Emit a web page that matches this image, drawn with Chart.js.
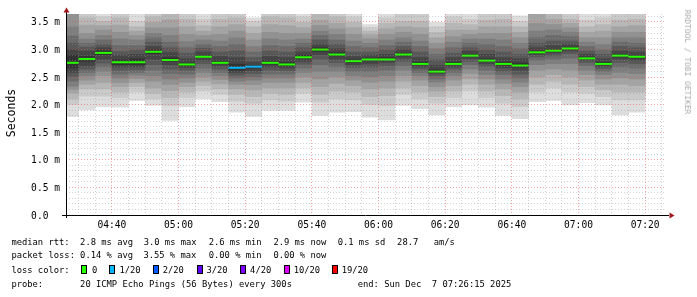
<!DOCTYPE html>
<html><head><meta charset="utf-8">
<script src="https://cdn.jsdelivr.net/npm/chart.js@4/dist/chart.umd.min.js"></script>
<style>
html,body{margin:0;padding:0;background:#fff;}
#wrap{position:relative;width:697px;height:297px;overflow:hidden;font-family:'DejaVu Sans Mono',monospace;background:#fff;}
canvas{position:absolute;left:0;top:0;}
.t{position:absolute;white-space:pre;font-size:8.8px;line-height:10px;color:#000;}
.box{position:absolute;width:4px;height:7px;border:1px solid #000;}
#ylab{position:absolute;left:11px;top:113px;font-size:11.5px;line-height:12px;white-space:pre;transform:translate(-50%,-50%) rotate(-90deg);color:#000;}
#wm{position:absolute;left:686.5px;top:62px;font-size:7.9px;line-height:8px;white-space:pre;transform:translate(-50%,-50%) rotate(90deg);color:#aaa;}
</style></head>
<body><div id="wrap"><canvas id="c" width="697" height="297"></canvas>
<div id="ylab">Seconds</div><div id="wm">RRDTOOL / TOBI OETIKER</div>
<div id="legend"></div></div>
<script>
// ---- data ----
const slotEnds = ['04:30','04:35','04:40','04:45','04:50','04:55','05:00','05:05','05:10','05:15','05:20','05:25','05:30','05:35','05:40','05:45','05:50','05:55','06:00','06:05','06:10','06:15','06:20','06:25','06:30','06:35','06:40','06:45','06:50','06:55','07:00','07:05','07:10','07:15','07:20'];
const medianRtt = [2.76,2.83,2.94,2.77,2.77,2.96,2.81,2.73,2.87,2.76,2.67,2.69,2.76,2.73,2.86,3.00,2.91,2.79,2.82,2.82,2.91,2.74,2.60,2.74,2.89,2.80,2.74,2.71,2.95,2.98,3.02,2.84,2.74,2.89,2.87];
const lostPings = [0,0,0,0,0,0,0,0,0,0,1,1,0,0,0,0,0,0,0,0,0,0,0,0,0,0,0,0,0,0,0,0,0,0,0];
// 20 sorted ping rtts (ms) per 5-minute slot
const pings = [
[1.78,2.00,2.10,2.21,2.27,2.33,2.42,2.51,2.58,2.66,2.90,3.00,3.12,3.25,3.42,3.66,3.75,3.85,3.95,4.10],
[1.90,2.15,2.28,2.36,2.44,2.52,2.58,2.64,2.70,2.78,2.88,2.98,3.05,3.12,3.20,3.30,3.45,3.58,3.70,3.90],
[1.96,2.15,2.28,2.40,2.52,2.60,2.68,2.75,2.82,2.90,2.98,3.04,3.10,3.18,3.26,3.36,3.44,3.52,3.60,3.75],
[1.95,2.12,2.22,2.32,2.40,2.48,2.55,2.62,2.68,2.72,2.82,2.90,2.97,3.08,3.20,3.32,3.45,3.58,3.70,3.85],
[2.07,2.22,2.32,2.40,2.47,2.53,2.58,2.63,2.68,2.72,2.84,2.92,3.00,3.08,3.18,3.26,3.34,3.42,3.52,3.70],
[1.98,2.10,2.20,2.30,2.42,2.52,2.62,2.72,2.82,2.92,3.00,3.06,3.14,3.22,3.30,3.40,3.50,3.60,3.72,3.90],
[1.71,1.98,2.12,2.25,2.36,2.46,2.56,2.64,2.72,2.78,2.86,2.95,3.04,3.14,3.26,3.40,3.55,3.68,3.80,3.95],
[1.96,2.12,2.22,2.32,2.40,2.48,2.55,2.62,2.67,2.70,2.76,2.84,2.94,3.04,3.15,3.28,3.42,3.56,3.70,3.85],
[2.10,2.24,2.34,2.42,2.50,2.58,2.66,2.74,2.80,2.85,2.90,2.96,3.03,3.10,3.18,3.26,3.34,3.44,3.56,3.70],
[2.05,2.18,2.28,2.37,2.45,2.52,2.58,2.64,2.70,2.74,2.80,2.88,2.96,3.06,3.16,3.28,3.42,3.56,3.70,3.85],
[1.86,2.06,2.18,2.28,2.36,2.42,2.48,2.53,2.58,2.62,2.74,2.86,2.98,3.10,3.22,3.34,3.46,3.58,3.70,3.85],
[1.78,2.02,2.14,2.26,2.36,2.44,2.50,2.56,2.61,2.66,2.72,2.78,2.86,2.96,3.06,3.18,3.30,3.42,3.52,3.58],
[1.89,2.08,2.20,2.30,2.40,2.48,2.55,2.62,2.68,2.73,2.80,2.88,2.98,3.08,3.20,3.32,3.46,3.60,3.74,3.90],
[1.89,2.06,2.18,2.30,2.40,2.48,2.55,2.61,2.66,2.70,2.77,2.86,2.96,3.06,3.18,3.30,3.44,3.58,3.72,3.88],
[2.04,2.20,2.30,2.40,2.50,2.58,2.66,2.73,2.78,2.83,2.90,2.96,3.04,3.12,3.20,3.30,3.40,3.50,3.60,3.75],
[1.80,2.04,2.18,2.32,2.46,2.60,2.72,2.82,2.90,2.96,3.04,3.10,3.18,3.26,3.34,3.44,3.54,3.66,3.80,3.95],
[1.86,2.10,2.24,2.38,2.50,2.60,2.68,2.76,2.82,2.88,2.95,3.02,3.10,3.18,3.28,3.38,3.48,3.60,3.72,3.88],
[1.87,2.08,2.22,2.34,2.44,2.52,2.60,2.67,2.72,2.76,2.82,2.88,2.96,3.06,3.16,3.28,3.40,3.50,3.60,3.70],
[1.77,2.00,2.14,2.28,2.40,2.50,2.60,2.68,2.74,2.79,2.85,2.90,2.96,3.04,3.12,3.20,3.28,3.34,3.40,3.46],
[1.72,1.98,2.16,2.30,2.42,2.52,2.62,2.70,2.76,2.80,2.86,2.92,3.00,3.08,3.18,3.28,3.38,3.48,3.58,3.70],
[1.98,2.18,2.30,2.42,2.52,2.62,2.70,2.78,2.84,2.88,2.94,3.00,3.06,3.14,3.22,3.32,3.42,3.52,3.64,3.80],
[1.92,2.10,2.22,2.34,2.44,2.52,2.58,2.64,2.68,2.72,2.78,2.86,2.96,3.06,3.16,3.28,3.40,3.52,3.64,3.80],
[1.81,2.02,2.14,2.24,2.32,2.40,2.46,2.52,2.56,2.58,2.64,2.72,2.82,2.92,3.02,3.12,3.22,3.32,3.42,3.50],
[1.96,2.12,2.24,2.34,2.44,2.52,2.58,2.64,2.68,2.72,2.78,2.86,2.94,3.04,3.14,3.24,3.36,3.48,3.60,3.74],
[1.99,2.24,2.36,2.46,2.56,2.64,2.72,2.78,2.83,2.87,2.92,2.98,3.04,3.12,3.20,3.28,3.36,3.46,3.56,3.66],
[1.95,2.12,2.24,2.36,2.46,2.54,2.62,2.69,2.74,2.78,2.84,2.92,3.00,3.10,3.20,3.30,3.42,3.54,3.66,3.80],
[1.80,2.02,2.16,2.28,2.38,2.46,2.54,2.60,2.66,2.71,2.78,2.86,2.96,3.06,3.18,3.30,3.42,3.56,3.70,3.85],
[1.74,1.96,2.10,2.22,2.32,2.40,2.48,2.55,2.62,2.68,2.76,2.84,2.92,3.02,3.12,3.22,3.32,3.42,3.52,3.62],
[2.05,2.22,2.36,2.50,2.62,2.72,2.80,2.86,2.90,2.93,2.98,3.04,3.12,3.22,3.34,3.48,3.66,3.78,3.90,4.05],
[2.07,2.30,2.42,2.54,2.64,2.74,2.82,2.88,2.93,2.96,3.01,3.08,3.16,3.26,3.36,3.46,3.56,3.66,3.78,3.92],
[1.99,2.22,2.36,2.50,2.62,2.74,2.84,2.92,2.97,3.00,3.05,3.10,3.16,3.24,3.32,3.40,3.48,3.56,3.66,3.80],
[2.03,2.20,2.32,2.44,2.54,2.62,2.70,2.76,2.80,2.82,2.87,2.92,2.98,3.06,3.14,3.22,3.32,3.42,3.54,3.66],
[1.99,2.14,2.26,2.36,2.46,2.54,2.60,2.65,2.69,2.72,2.78,2.84,2.92,3.00,3.10,3.22,3.34,3.46,3.58,3.72],
[1.81,2.08,2.22,2.36,2.48,2.58,2.68,2.76,2.82,2.86,2.92,2.98,3.06,3.14,3.22,3.32,3.42,3.54,3.66,3.80],
[1.86,2.08,2.22,2.34,2.46,2.56,2.66,2.74,2.80,2.84,2.90,2.96,3.04,3.12,3.22,3.32,3.44,3.56,3.68,3.82]
];
const xTickLabels = ['04:40','05:00','05:20','05:40','06:00','06:20','06:40','07:00','07:20'];
const yTickLabels = ['0.0  ','0.5 m','1.0 m','1.5 m','2.0 m','2.5 m','3.0 m','3.5 m'];
const startTime = '04:26:15', endTime = '07:26:15';
const yMax = 3.645;
const lossColors = {0:'#26ff00',1:'#00b8ff',2:'#0059ff',3:'#5e00ff',4:'#7e00ff',10:'#dd00ff',19:'#ff0000'};

const legendRows = [
 {base:245, items:[[12,'median rtt:'],[80.7,'2.8 ms avg'],[144.3,'3.0 ms max'],[209.3,'2.6 ms min'],[274,'2.9 ms now'],[338.3,'0.1 ms sd'],[397.7,'28.7'],[434.3,'am/s']]},
 {base:258.3, items:[[12,'packet loss:'],[80.7,'0.14 % avg'],[144,'3.55 % max'],[209.3,'0.00 % min'],[274,'0.00 % now']]},
 {base:272.7, items:[[12,'loss color:'],[92.7,'0'],[120,'1/20'],[163.3,'2/20'],[207,'3/20'],[250.7,'4/20'],[294.3,'10/20'],[342.3,'19/20']]},
 {base:286.7, items:[[12,'probe:'],[80.7,'20 ICMP Echo Pings (56 Bytes) every 300s'],[358.3,'end: Sun Dec  7 07:26:15 2025']]}
];
const legendBoxes = [[81,0],[108.7,1],[152.7,2],[196.7,3],[240,4],[283.7,10],[331.7,19]];

// ---- helpers ----
function toMin(s){const p=s.split(':').map(Number);return p[0]*60+p[1]+(p[2]||0)/60;}
function fmt(m){const h=Math.floor(m/60),mm=Math.round(m%60);return String(h).padStart(2,'0')+':'+String(mm).padStart(2,'0');}

// legend html
const lg=document.getElementById('legend');
legendRows.forEach(r=>r.items.forEach(([x,s])=>{const d=document.createElement('div');d.className='t';d.style.left=(x-0.6)+'px';d.style.top=(r.base-8.05)+'px';d.textContent=s;lg.appendChild(d);}));
legendBoxes.forEach(([x,l])=>{const d=document.createElement('div');d.className='box';d.style.left=x+'px';d.style.top='265px';d.style.background=lossColors[l];lg.appendChild(d);});

// ---- datasets ----
const xs = slotEnds.map(t=>toMin(t)-2.5);
const datasets=[];
for(let b=0;b<10;b++){
  const g=Math.round(190/10*(10-(b+1)))+50;
  const c='rgb('+g+','+g+','+g+')';
  datasets.push({type:'bar',order:20-b,backgroundColor:c,borderWidth:0,
    data: xs.map((x,i)=>({x:x,y:[pings[i][b],pings[i][19-b]]}))});
}
datasets.push({type:'line',order:0,showLine:false,pointStyle:'line',pointRadius:8.4,pointHoverRadius:8.4,
  pointBorderWidth:2,pointBorderColor:lostPings.map(l=>lossColors[l]),pointBackgroundColor:lostPings.map(l=>lossColors[l]),
  data: xs.map((x,i)=>({x:x,y:medianRtt[i]}))});

const MINOR='rgba(150,150,150,0.42)', MAJOR='rgba(230,80,80,0.5)';
const axesPlugin={id:'axes',afterDraw(chart){
  const {ctx,chartArea:a}=chart;ctx.save();
  ctx.strokeStyle='#000';ctx.lineWidth=1;ctx.beginPath();
  ctx.moveTo(a.left+0.5,11);ctx.lineTo(a.left+0.5,218);
  ctx.moveTo(62,a.bottom+0.5);ctx.lineTo(669,a.bottom+0.5);ctx.stroke();
  ctx.fillStyle='#a01818';ctx.beginPath();
  ctx.moveTo(a.left+0.5,7.5);ctx.lineTo(a.left-2.5,12.5);ctx.lineTo(a.left+3.5,12.5);ctx.closePath();ctx.fill();
  ctx.beginPath();ctx.moveTo(674.5,a.bottom+0.5);ctx.lineTo(669.5,a.bottom-2.5);ctx.lineTo(669.5,a.bottom+3.5);ctx.closePath();ctx.fill();
  ctx.restore();}};

new Chart(document.getElementById('c'),{
  type:'bar',
  data:{datasets},
  options:{
    responsive:false,animation:false,events:[],
    layout:{padding:{top:14,right:31,left:0,bottom:0}},
    datasets:{bar:{grouped:false,barPercentage:1.03,categoryPercentage:1}},
    plugins:{legend:{display:false},tooltip:{enabled:false}},
    scales:{
      x:{type:'linear',offset:false,min:toMin(startTime),max:toMin(endTime),
        afterFit(s){s.height=82;},
        afterBuildTicks(s){const t=[];for(let v=Math.ceil(s.min/5)*5;v<=s.max;v+=5)t.push({value:v});s.ticks=t;},
        grid:{z:1,offset:false,drawTicks:false,lineWidth:1,color:c=>(c.tick&&c.tick.value%20===0)?MAJOR:MINOR},
        border:{display:false,dash:[1,2]},
        ticks:{autoSkip:false,maxRotation:0,padding:5,color:'#000',font:{family:'DejaVu Sans Mono',size:9.6},
          callback:v=>{const s=fmt(v);return xTickLabels.includes(s)?s:'';}}},
      y:{type:'linear',min:0,max:yMax,
        afterFit(s){s.width=66;},
        afterBuildTicks(s){const t=[];for(let k=0;k<=36;k++)t.push({value:k/10});s.ticks=t;},
        grid:{z:1,drawTicks:false,lineWidth:1,color:c=>(c.tick&&Math.round(c.tick.value*10)%5===0)?MAJOR:MINOR},
        border:{display:false,dash:[1,2]},
        ticks:{autoSkip:false,padding:6,labelOffset:1,color:'#000',font:{family:'DejaVu Sans Mono',size:9.6},
          callback:v=>{const k=Math.round(v*10);return k%5===0?yTickLabels[k/5]:'';}}}
    }
  },
  plugins:[axesPlugin]
});
</script></body></html>
